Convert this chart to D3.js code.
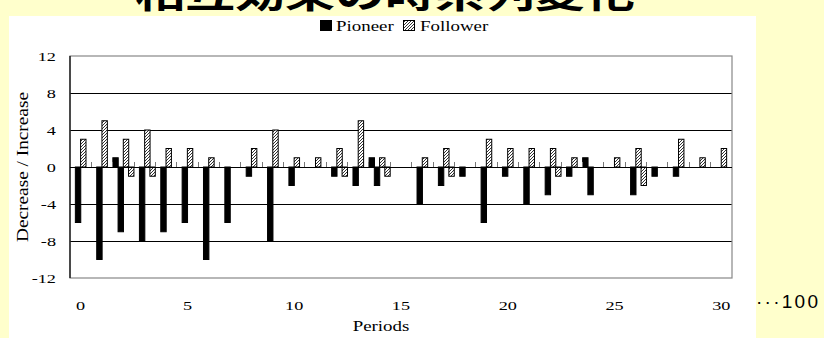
<!DOCTYPE html>
<html><head><meta charset="utf-8">
<script src="https://cdn.jsdelivr.net/npm/d3@7/dist/d3.min.js"></script>
<style>
body{margin:0;background:#FFFFCC;overflow:hidden}
svg{display:block}
</style>
</head><body>
<svg id="chart" width="824" height="338"></svg>
<script>
// ---- data ----
const periods = [0,1,2,3,4,5,6,7,8,9,10,11,12,13,14,15,16,17,18,19,20,21,22,23,24,25,26,27,28,29,30];
const pioneerUp    = [0,0,1,0,0,0,0,0,0,0,0,0,0,0,1,0,0,0,0,0,0,0,0,0,1,0,0,0,0,0,0];
const pioneerDown  = [-6,-10,-7,-8,-7,-6,-10,-6,-1,-8,-2,0,-1,-2,-2,0,-4,-2,-1,-6,-1,-4,-3,-1,-3,0,-3,-1,-1,0,0];
const followerUp   = [3,5,3,4,2,2,1,0,2,4,1,1,2,5,1,0,1,2,0,3,2,2,2,1,0,1,2,0,3,1,2];
const followerDown = [0,0,-1,-1,0,0,0,0,0,0,0,0,-1,0,-1,0,0,-1,0,0,0,0,-1,0,0,0,-2,0,0,0,0];
const yTickValues = [-12,-8,-4,0,4,8,12];
const xTickLabels = [0,5,10,15,20,25,30];
const legendLabels = ["Pioneer","Follower"];
const titleText = "相互効果の時系列変化";

const K = 1.35; // horizontal stretch of the source picture
const serif = "'Liberation Serif','Times New Roman',serif";

const svg = d3.select("#chart");
function stretch(sel,k){
  sel.each(function(){
    const L=this.getComputedTextLength();
    this.setAttribute("textLength",L*k);
    this.setAttribute("lengthAdjust","spacingAndGlyphs");
  });
}

// hatch pattern
const defs = svg.append("defs");
const pat = defs.append("pattern").attr("id","hatch").attr("patternUnits","userSpaceOnUse")
  .attr("width",3).attr("height",3);
pat.append("rect").attr("width",3).attr("height",3).attr("fill","#fff");
pat.append("path").attr("d","M-1,1 l2,-2 M0,3 l3,-3 M2,4 l2,-2")
  .attr("stroke","#333").attr("stroke-width",1);

// title (cut off at top, as in the source)
const title = svg.append("text").attr("x",385).attr("y",8)
  .attr("text-anchor","middle")
  .style("font-family","'Noto Sans CJK JP',sans-serif").style("font-weight","bold")
  .style("font-size","37px").attr("fill","#000").text(titleText);
stretch(title,K);

// white panel
svg.append("rect").attr("x",9).attr("y",16).attr("width",747).attr("height",322).attr("fill","#fff");

// scales
const x = d3.scaleBand().domain(periods).range([70,732]).padding(0);
const y = d3.scaleLinear().domain([-12,12]).range([278,56]);

// gridlines
svg.append("g").selectAll("line").data(yTickValues.filter(v=>v!==12 && v!==-12 && v!==0)).join("line")
  .attr("x1",70).attr("x2",732).attr("y1",d=>y(d)).attr("y2",d=>y(d))
  .attr("stroke","#000").attr("stroke-width",1).attr("shape-rendering","crispEdges");

// plot border (gray)
svg.append("rect").attr("x",70).attr("y",y(12)).attr("width",662).attr("height",y(-12)-y(12))
  .attr("fill","none").attr("stroke","#888").attr("stroke-width",1.2);

// bars
const pitch = x.bandwidth()*0.245, bw = x.bandwidth()*0.3;
const series = [
  {vals:pioneerUp, k:0, fill:"#000", stroke:"#000"},
  {vals:pioneerDown, k:1, fill:"#000", stroke:"#000"},
  {vals:followerUp, k:2, fill:"url(#hatch)", stroke:"#000"},
  {vals:followerDown, k:3, fill:"url(#hatch)", stroke:"#000"}
];
series.forEach(s=>{
  const data = periods.map((p,i)=>({p, v:s.vals[i]})).filter(d=>d.v!==0);
  svg.append("g").selectAll("rect").data(data).join("rect")
    .attr("x",d=>x(d.p)+x.bandwidth()/2+(s.k-1.5)*pitch-bw/2+0.5)
    .attr("width",bw-1)
    .attr("y",d=>Math.min(y(d.v),y(0)))
    .attr("height",d=>Math.abs(y(d.v)-y(0)))
    .attr("fill",s.fill).attr("stroke",s.stroke).attr("stroke-width",1);
});

// zero axis and category ticks
svg.append("line").attr("x1",70).attr("x2",732).attr("y1",y(0)).attr("y2",y(0))
  .attr("stroke","#000").attr("stroke-width",1).attr("shape-rendering","crispEdges");
svg.append("g").selectAll("line").data(periods.slice(1)).join("line")
  .attr("x1",d=>x(d)).attr("x2",d=>x(d)).attr("y1",y(0)-5).attr("y2",y(0))
  .attr("stroke","#777").attr("stroke-width",1).attr("shape-rendering","crispEdges");

// left axis
svg.append("line").attr("x1",70).attr("x2",70).attr("y1",y(12)).attr("y2",y(-12))
  .attr("stroke","#000").attr("stroke-width",1.2);

// y tick labels
const yl = svg.append("g").selectAll("text").data(yTickValues).join("text")
  .attr("x",56).attr("y",d=>y(d)).attr("dy","0.35em").attr("text-anchor","end")
  .style("font-family",serif).style("font-size","13.5px").attr("fill","#000")
  .text(d=>d);
stretch(yl,K);

// x tick labels
const xl = svg.append("g").selectAll("text").data(xTickLabels).join("text")
  .attr("x",d=>x(d)+x.bandwidth()/2).attr("y",310).attr("text-anchor","middle")
  .style("font-family",serif).style("font-size","13.5px").attr("fill","#000")
  .text(d=>d);
stretch(xl,K);

// axis titles
const xt = svg.append("text").attr("x",381).attr("y",331).attr("text-anchor","middle")
  .style("font-family",serif).style("font-size","14px").text("Periods");
stretch(xt,K);
svg.append("text").attr("transform","translate(28,167) rotate(-90)").attr("text-anchor","middle")
  .style("font-family",serif).style("font-size","16px")
  .attr("textLength",150).attr("lengthAdjust","spacingAndGlyphs")
  .text("Decrease / Increase");

// legend
const lg = svg.append("g");
lg.append("rect").attr("x",320).attr("y",20).attr("width",12).attr("height",11).attr("fill","#000");
const t1 = lg.append("text").attr("x",336).attr("y",31).style("font-family",serif).style("font-size","14px").text(legendLabels[0]);
stretch(t1,K);
lg.append("rect").attr("x",403.5).attr("y",20.5).attr("width",11).attr("height",10).attr("fill","url(#hatch)").attr("stroke","#000");
const t2 = lg.append("text").attr("x",420).attr("y",31).style("font-family",serif).style("font-size","14px").text(legendLabels[1]);
stretch(t2,K);

// "· · ·100" note
svg.append("text").attr("x",756).attr("y",308)
  .style("font-family","'Liberation Sans',Arial,sans-serif").style("font-size","19px")
  .attr("textLength",62).attr("lengthAdjust","spacing")
  .text("···100");
</script>
</body></html>
